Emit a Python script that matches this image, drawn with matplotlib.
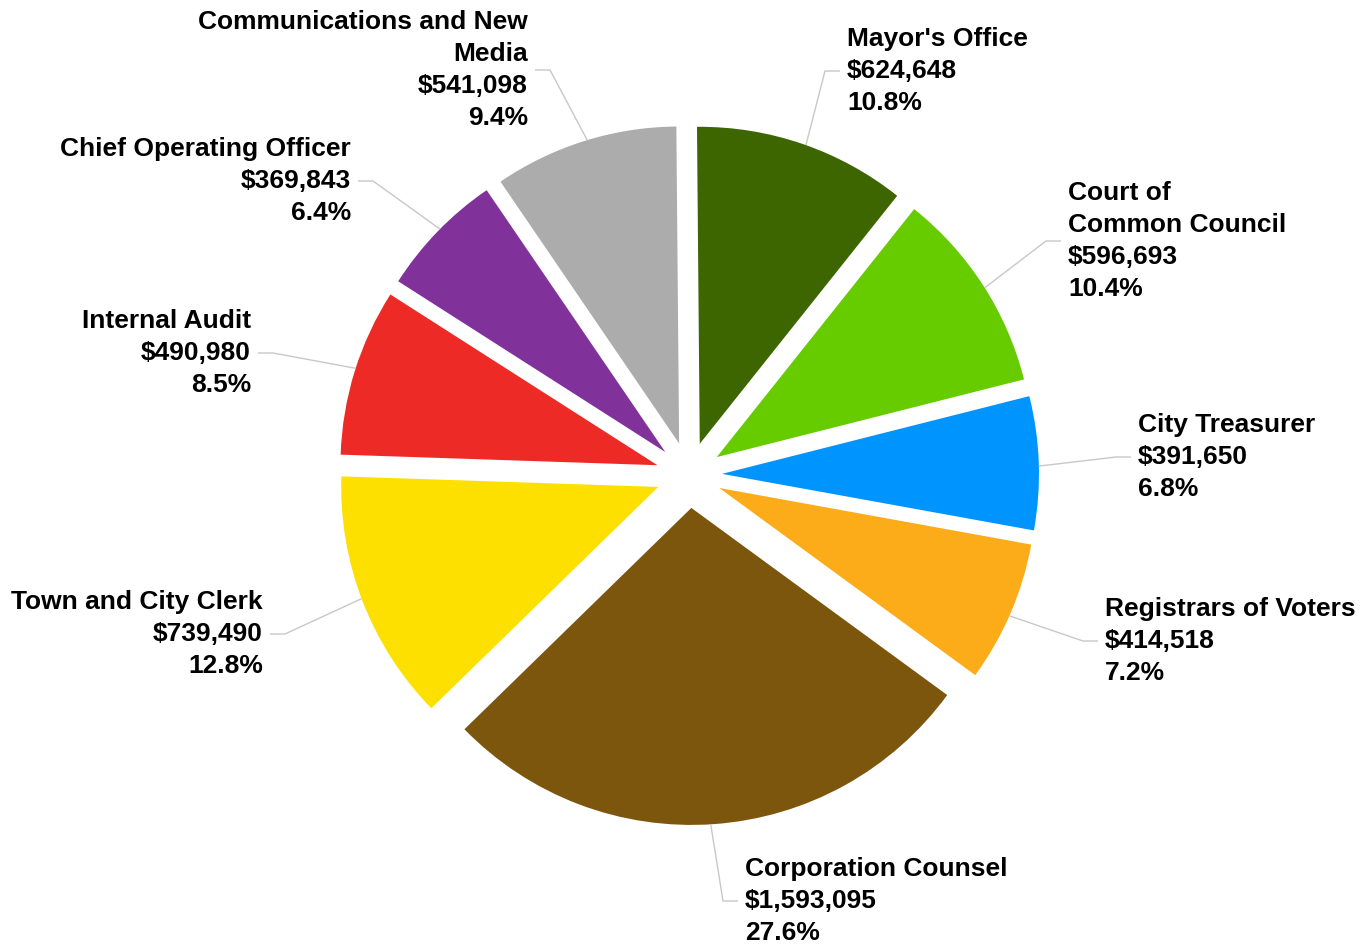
import matplotlib.pyplot as plt
import numpy as np

# Budget by department
names = ["Mayor's Office", "Court of\nCommon Council", "City Treasurer",
         "Registrars of Voters", "Corporation Counsel", "Town and City Clerk",
         "Internal Audit", "Chief Operating Officer", "Communications and New\nMedia"]
values = [624648, 596693, 391650, 414518, 1593095, 739490, 490980, 369843, 541098]
colors = ['#3d6601', '#66cc00', '#0094ff', '#fbac18', '#7d560d',
          '#fde000', '#ee2a27', '#81319a', '#acacac']

# label anchors (pixel coords from top-left)
label_pos = [(847, 71), (1068, 241), (1138, 457), (1105, 641), (745, 901),
             (263, 634), (251, 353), (351, 181), (528, 70)]

W, H = 1372, 946
cx, cy = 689, H - 475
R = 317
gap = 33  # explode distance in pixels

fig = plt.figure(figsize=(13.72, 9.46), dpi=100)
ax = fig.add_axes([0, 0, 1, 1])

ax.pie(values, colors=colors, startangle=90.5, counterclock=False,
       explode=[gap] * len(values), radius=R, center=(cx, cy),
       wedgeprops=dict(linewidth=0), frame=True)
ax.set_xlim(0, W)
ax.set_ylim(0, H)
ax.axis('off')

total = sum(values)
frac = np.array(values) / total
mids = np.cumsum(frac) - frac / 2

for name, v, f, m, (lx, ly) in zip(names, values, frac, mids, label_pos):
    th = 2 * np.pi * m
    r = R + gap
    x0 = cx + r * np.sin(th)
    y0 = cy + r * np.cos(th)
    ly_d = H - ly
    right = lx > cx
    s = 1 if right else -1
    ax.plot([x0, lx - s * 22, lx - s * 7], [y0, ly_d, ly_d],
            color='#c8c8c8', lw=1, solid_capstyle='butt')
    txt = f"{name}\n${v:,}\n{f * 100:.1f}%"
    ax.text(lx, ly_d, txt, ha='left' if right else 'right',
            multialignment='left' if right else 'right', va='center',
            fontsize=19, fontweight='bold', family='Liberation Sans',
            linespacing=1.43, color='black')

fig.savefig('out.png', dpi=100)
